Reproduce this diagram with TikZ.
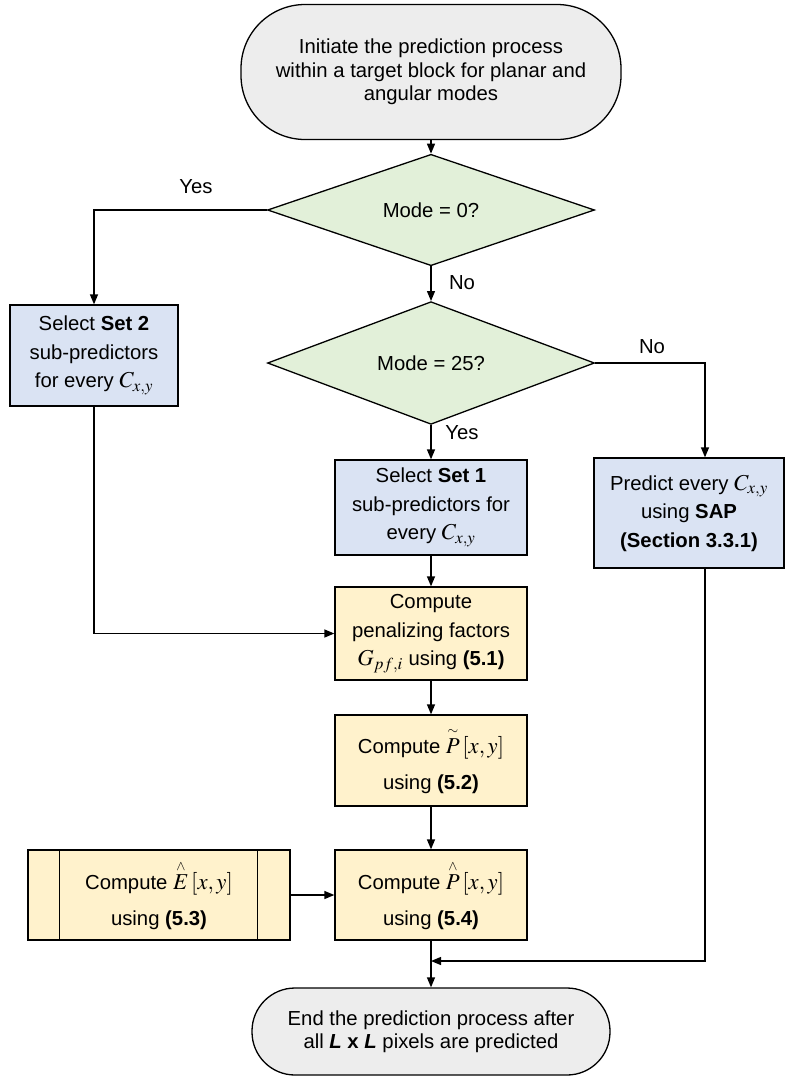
\documentclass[tikz,border=0pt]{standalone}
\usepackage{amsmath}
\usepackage{mathptmx}
\usepackage[no-math]{fontspec}
\setmainfont{Liberation Sans}
\usetikzlibrary{arrows.meta,shapes.geometric,calc}

\definecolor{termgrey}{HTML}{EDEDED}
\definecolor{decgreen}{HTML}{E2F0D9}
\definecolor{selblue}{HTML}{DAE3F3}
\definecolor{calcyellow}{HTML}{FFF2CC}

% slightly enlarged math symbols inside the boxes
\newcommand{\mth}[1]{\scalebox{1.12}{$#1$}}

\begin{document}
\begin{tikzpicture}[x=1pt, y=-1pt, line width=1.3pt,
  >={Triangle[length=10pt,width=8pt]},
  base/.style={draw=black, align=center, inner sep=0pt,
    font=\fontsize{20.3}{28.5}\selectfont},
  term/.style={base, rectangle, fill=termgrey,
    font=\fontsize{20.3}{23.5}\selectfont},
  decision/.style={base, diamond, fill=decgreen,
    minimum width=327pt, minimum height=90pt},
  bluebox/.style={base, rectangle, fill=selblue},
  calcbox/.style={base, rectangle, fill=calcyellow},
  tallbox/.style={calcbox, font=\fontsize{20.3}{36}\selectfont},
  lbl/.style={font=\fontsize{20.3}{24}\selectfont, inner sep=0pt}]

\useasboundingbox (0,0) rectangle (786,1080);

% terminals
\node[term, minimum width=380pt, minimum height=135pt, rounded corners=64pt]
  (start) at (431,72) {Initiate the prediction process\\within a target block for planar and\\angular modes};
\node[term, minimum width=358pt, minimum height=87pt, rounded corners=43pt]
  (stop) at (431,1031.5) {End the prediction process after\\all \textbf{\textit{L} x \textit{L}} pixels are predicted};

% decisions
\node[decision] (mode0) at (431,210) {Mode = 0?};
\node[decision] (mode25) at (431,363) {Mode = 25?};

% predictor selection
\node[bluebox, minimum width=168pt, minimum height=101pt] (set2) at (94,355.5)
  {Select \textbf{Set 2}\\sub-predictors\\for every \mth{C_{x,y}}};
\node[bluebox, minimum width=192pt, minimum height=95pt] (set1) at (431,507.5)
  {Select \textbf{Set 1}\\sub-predictors for\\every \mth{C_{x,y}}};
\node[bluebox, minimum width=190pt, minimum height=110pt] (sap) at (689,513)
  {Predict every \mth{C_{x,y}}\\using \textbf{SAP}\\\textbf{(Section 3.3.1)}};

% computation steps
\node[calcbox, minimum width=192pt, minimum height=93pt] (pen) at (431,633.5)
  {Compute\\penalizing factors\\\mth{G_{pf,i}} using \textbf{(5.1)}};
\node[tallbox, minimum width=192pt, minimum height=91pt] (ptil) at (431,760.5)
  {Compute \mth{\overset{\scriptscriptstyle\sim}{P}\,[x,y]}\\using \textbf{(5.2)}};
\node[tallbox, minimum width=192pt, minimum height=90pt] (phat) at (431,895)
  {Compute \mth{\overset{\scriptscriptstyle\wedge}{P}\,[x,y]}\\using \textbf{(5.4)}};
\node[tallbox, minimum width=262pt, minimum height=90pt] (ehat) at (159,895)
  {Compute \mth{\overset{\scriptscriptstyle\wedge}{E}\,[x,y]}\\using \textbf{(5.3)}};
\draw ($(ehat.north west)+(32,0)$) -- ($(ehat.south west)+(32,0)$);
\draw ($(ehat.north east)+(-33,0)$) -- ($(ehat.south east)+(-33,0)$);

% connectors
\coordinate (rturn) at (705,363);
\coordinate (join) at (431,961);

\draw[->] (start) -- (mode0);
\draw[->] (mode0.west) -| (set2.north);
\draw[->] (mode0.south) -- (mode25.north);
\draw[->] (mode25.south) -- (set1.north);
\draw[->] (mode25.east) -- (rturn) -- (rturn |- sap.north);
\draw[->] (set1) -- (pen);
\draw[->] (set2.south) |- (pen.west);
\draw[->] (pen) -- (ptil);
\draw[->] (ptil) -- (phat);
\draw[->] (ehat) -- (phat);
\draw[->] (phat) -- (stop);
\draw[->] (rturn |- sap.south) |- (join);

% branch labels
\node[lbl] (yes0) at (196,187) {Yes};
\node[lbl] (no0) at (462,283) {No};
\node[lbl] (yes25) at (462,433) {Yes};
\node[lbl] (no25) at (652,347) {No};
\end{tikzpicture}
\end{document}
